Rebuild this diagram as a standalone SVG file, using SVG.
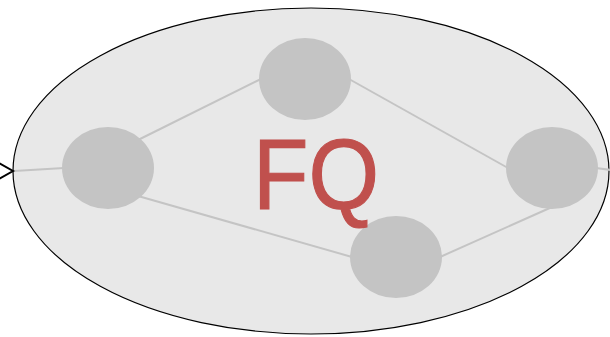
<svg xmlns="http://www.w3.org/2000/svg" width="610" height="337" viewBox="0 0 610 337">
  <style>
    .node { fill: #c4c4c4; stroke: none; }
    .edge { fill: none; stroke: #c4c4c4; stroke-width: 2; }
    .label { font-family: "Liberation Sans", Arial, sans-serif; font-size: 101px; fill: #c0504d; }
  </style>

  <!-- container -->
  <g id="container">
    <ellipse cx="311" cy="171" rx="298" ry="163" fill="#e8e8e8" stroke="#000" stroke-width="1.2"/>
  </g>

  <g id="connectors">
    <path class="edge" d="M14,171 L64,168"/>
    <path class="edge" d="M138,140 L261,79"/>
    <path class="edge" d="M138,196 L352,257"/>
    <path class="edge" d="M349,79 L508,168"/>
    <path class="edge" d="M440,257 L552,207"/>
    <path class="edge" d="M596,168 L611,170"/>
    <!-- incoming arrowhead on the container edge -->
    <path d="M-1,163 L13,171 L-1,179" fill="none" stroke="#000" stroke-width="2"/>
  </g>

  <g id="n1"><ellipse class="node" cx="108" cy="168" rx="46" ry="41"/></g>
  <g id="n2"><ellipse class="node" cx="305" cy="79" rx="46" ry="41"/></g>
  <g id="n3"><ellipse class="node" cx="396" cy="257" rx="46" ry="41"/></g>
  <g id="n4"><ellipse class="node" cx="552" cy="168" rx="46" ry="41"/></g>

  <g id="title">
    <text class="label" x="253" y="209" textLength="126" lengthAdjust="spacingAndGlyphs" stroke="#c0504d" stroke-width="1.2">FQ</text>
  </g>
</svg>
